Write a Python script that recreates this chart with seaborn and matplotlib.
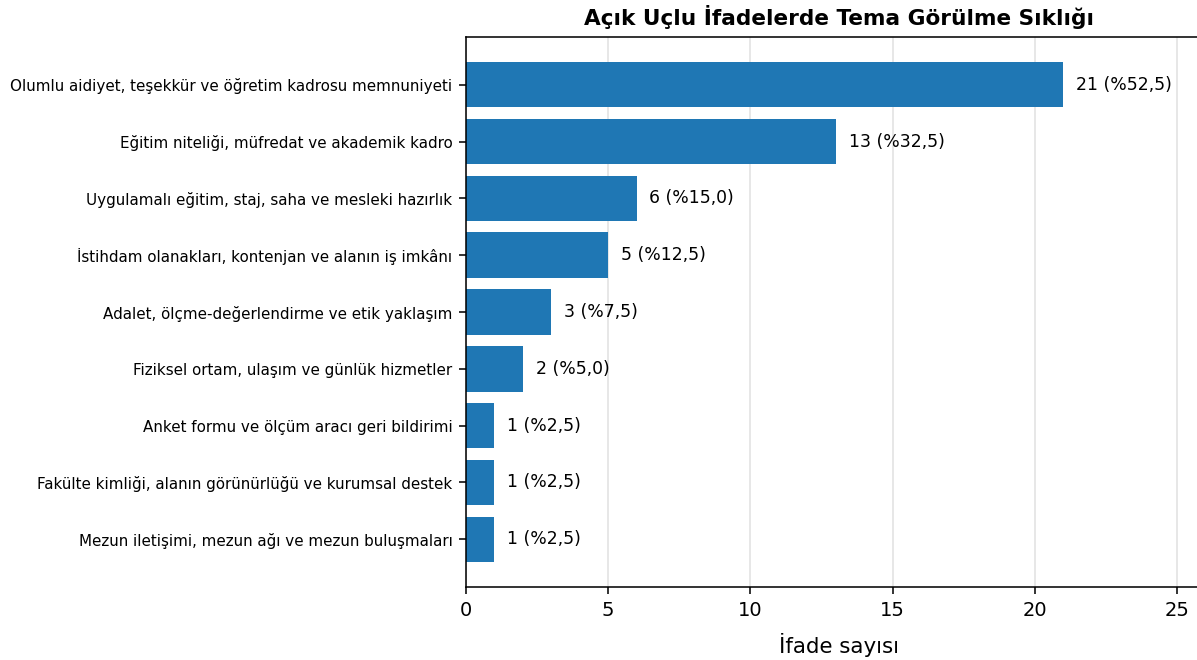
import pandas as pd
import seaborn as sns
import matplotlib.pyplot as plt

# theme labels and counts (n = 40 responses)
temalar = [
    "Olumlu aidiyet, teşekkür ve öğretim kadrosu memnuniyeti",
    "Eğitim niteliği, müfredat ve akademik kadro",
    "Uygulamalı eğitim, staj, saha ve mesleki hazırlık",
    "İstihdam olanakları, kontenjan ve alanın iş imkânı",
    "Adalet, ölçme-değerlendirme ve etik yaklaşım",
    "Fiziksel ortam, ulaşım ve günlük hizmetler",
    "Anket formu ve ölçüm aracı geri bildirimi",
    "Fakülte kimliği, alanın görünürlüğü ve kurumsal destek",
    "Mezun iletişimi, mezun ağı ve mezun buluşmaları",
]
sayilar = [21, 13, 6, 5, 3, 2, 1, 1, 1]
yuzdeler = ["52,5", "32,5", "15,0", "12,5", "7,5", "5,0", "2,5", "2,5", "2,5"]

df = pd.DataFrame({"tema": temalar, "sayi": sayilar, "yuzde": yuzdeler})

fig, ax = plt.subplots(figsize=(1197 / 140, 660 / 140), dpi=140)
fig.subplots_adjust(left=0.3893, right=1.013, top=0.9439, bottom=0.1106)

ax.grid(axis="x", color="#cccccc", alpha=0.6, linewidth=0.8, zorder=0)
ax.set_axisbelow(True)
sns.barplot(data=df, x="sayi", y="tema", orient="h", color="#1f77b4",
            saturation=1, width=0.8, ax=ax, zorder=2)

for i, row in df.iterrows():
    ax.text(row["sayi"] + 0.45, i, f"{row['sayi']} (%{row['yuzde']})",
            va="center", ha="left", fontsize=8.9)

ax.set_xlim(0, max(sayilar) * 1.25)
ax.set_ylim(len(temalar) - 1 + 0.84, -0.84)
ax.set_xticks([0, 5, 10, 15, 20, 25])
ax.tick_params(axis="x", labelsize=10)
ax.tick_params(axis="y", labelsize=7.8)
ax.set_xlabel("İfade sayısı", fontsize=11, labelpad=7)
ax.set_ylabel("")
ax.set_title("Açık Uçlu İfadelerde Tema Görülme Sıklığı", fontsize=11.1, fontweight="bold")

plt.savefig("out.png", dpi=140)
